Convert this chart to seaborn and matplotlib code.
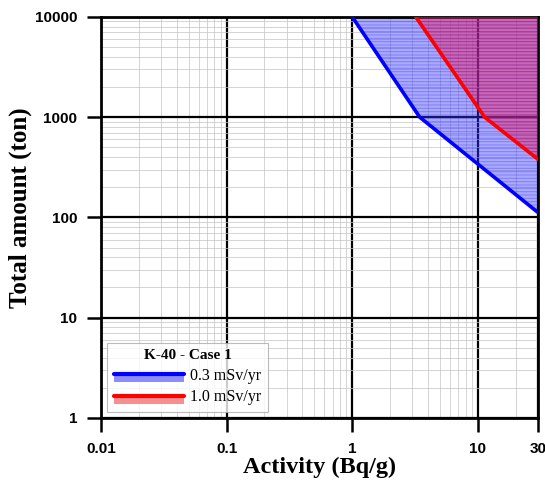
import numpy as np
import pandas as pd
import matplotlib
matplotlib.use("Agg")
import matplotlib.pyplot as plt
import seaborn as sns
from matplotlib.legend_handler import HandlerBase
from matplotlib.patches import Rectangle
from matplotlib.lines import Line2D

# boundary curves
blue_x = [1.0, 3.44, 30.0]
blue_y = [10000, 1000, 112]
red_x = [3.2, 11.3, 30.0]
red_y = [10000, 1000, 380]
series = ["0.3 mSv/yr", "1.0 mSv/yr"]
xticks = [0.01, 0.1, 1, 10, 30]
xticklabels = ["0.01", "0.1", "1", "10", "30"]
yticks = [1, 10, 100, 1000, 10000]

sns.set_style("white")
plt.rcParams["text.color"] = "black"
plt.rcParams["xtick.color"] = "black"
plt.rcParams["ytick.color"] = "black"
plt.rcParams["axes.labelcolor"] = "black"

df = pd.concat([
    pd.DataFrame({"x": blue_x, "y": blue_y, "dose": series[0]}),
    pd.DataFrame({"x": red_x, "y": red_y, "dose": series[1]}),
])

fig = plt.figure(figsize=(5.45, 4.82), dpi=100)
ax = fig.add_axes([0.185, 0.133, 0.802, 0.832])
ax.set_xscale("log")
ax.set_yscale("log")
ax.set_xlim(0.01, 30)
ax.set_ylim(1, 10000)

# grid first so the fills sit on top of it
ax.set_axisbelow(True)
ax.grid(which="minor", color="#c4c4c4", lw=0.5)
ax.grid(which="major", color="black", lw=1.6)

plt.rcParams["hatch.linewidth"] = 0.7
ax.fill_between(blue_x, blue_y, 10000, facecolor=(0.2, 0.2, 1.0, 0.42),
                edgecolor=(0.1, 0.1, 0.9, 0.3), hatch="-----", lw=0, zorder=2)
ax.fill_between(red_x, red_y, 10000, facecolor=(0.9, 0.15, 0.45, 0.5),
                edgecolor=(0.5, 0.0, 0.3, 0.3), hatch="-----", lw=0, zorder=3)

sns.lineplot(data=df, x="x", y="y", hue="dose", palette=["#0000ff", "#ff0000"],
             lw=2.6, ax=ax, legend=False, zorder=4, sort=False)

ax.set_xticks(xticks)
ax.set_xticklabels(xticklabels)
ax.set_yticks(yticks)
ax.set_yticklabels([str(v) for v in yticks])
ax.tick_params(which="major", direction="out", length=10, width=1.8,
               labelsize=11, pad=7, bottom=True, left=True, colors="black")
ax.tick_params(which="minor", length=0)
for lab in ax.get_xticklabels() + ax.get_yticklabels():
    lab.set_fontfamily("Liberation Sans")
    lab.set_fontweight("bold")
for s in ax.spines.values():
    s.set_linewidth(2.0)
    s.set_color("black")

ax.set_xlabel("Activity (Bq/g)", family="Liberation Serif", weight="bold",
              fontsize=17.5, labelpad=1)
ax.set_ylabel("Total amount (ton)", family="Liberation Serif", weight="bold",
              fontsize=18)
ax.yaxis.set_label_coords(-0.158, 0.525)


class LineOverPatch(HandlerBase):
    def __init__(self, line_c, patch_c):
        super().__init__()
        self.line_c = line_c
        self.patch_c = patch_c

    def create_artists(self, legend, orig, xd, yd, w, h, fs, trans):
        r = Rectangle((-xd, -yd - 0.25 * h), w, 0.65 * h, facecolor=self.patch_c,
                      edgecolor="none", transform=trans)
        ln = Line2D([-xd, -xd + w], [-yd + 0.5 * h] * 2, color=self.line_c,
                    lw=3, transform=trans)
        return [r, ln]


h1 = Line2D([], [])
h2 = Line2D([], [])
leg = ax.legend([h1, h2], series, loc="lower left", bbox_to_anchor=(0.0, 0.0),
                title="K-40 - Case 1", frameon=True, fancybox=False,
                handlelength=4.4, handletextpad=0.4, borderpad=0.4,
                labelspacing=0.35, borderaxespad=0.4,
                prop={"family": "Liberation Serif", "size": 11.5},
                title_fontproperties={"family": "Liberation Serif",
                                      "weight": "bold", "size": 11},
                handler_map={h1: LineOverPatch("#0000ff", "#8c8cff"),
                             h2: LineOverPatch("#ff0000", "#f59090")})
leg.get_frame().set_edgecolor("#aaaaaa")
leg.get_frame().set_linewidth(0.8)
leg.set_zorder(10)

fig.savefig("out.png", dpi=100)
